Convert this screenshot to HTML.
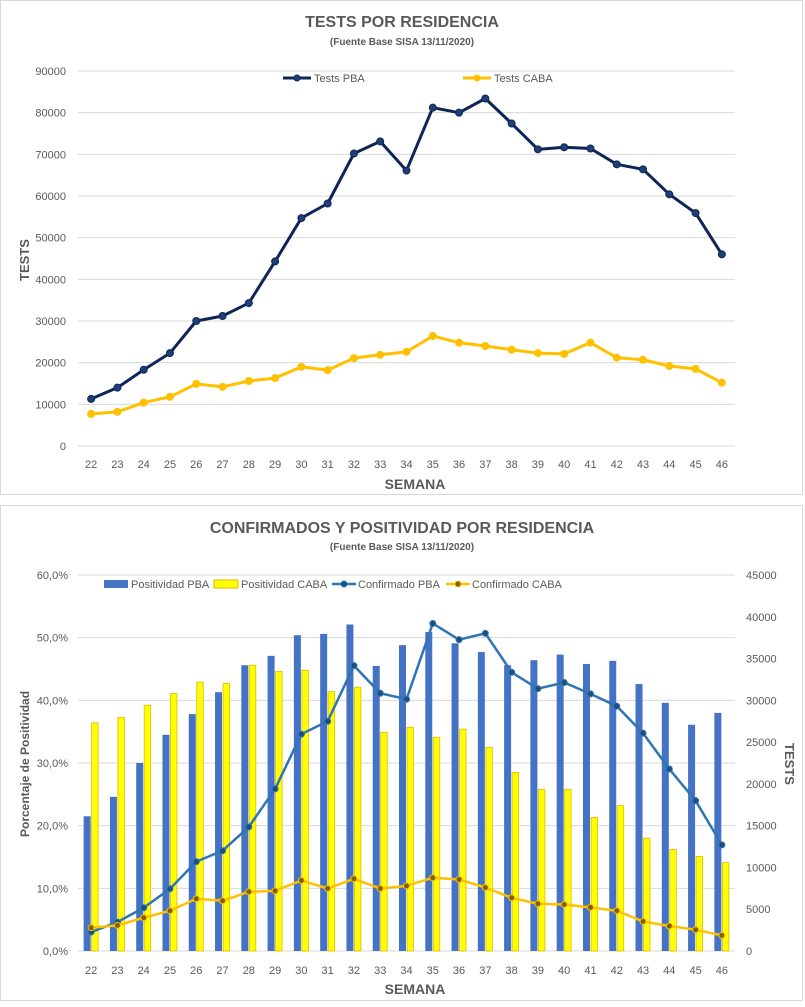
<!DOCTYPE html>
<html><head><meta charset="utf-8"><style>
body{margin:0;background:#fff;width:805px;height:1002px;overflow:hidden;font-family:"Liberation Sans",sans-serif}
svg text{font-family:"Liberation Sans",sans-serif}
</style></head><body>
<svg id="c" width="805" height="1002">
<rect x="0.5" y="0.5" width="802" height="494" fill="#fff" stroke="#d9d9d9"/>
<rect x="0.5" y="505.5" width="802" height="495" fill="#fff" stroke="#d9d9d9"/>
<g id="g1"></g><g id="g2"></g>
</svg>
<script>
const weeks=[22,23,24,25,26,27,28,29,30,31,32,33,34,35,36,37,38,39,40,41,42,43,44,45,46];
const testsPBA=[11300,14000,18300,22300,30000,31200,34300,44300,54700,58200,70200,73100,66100,81200,80000,83400,77400,71200,71700,71400,67600,66400,60400,55900,46000];
const testsCABA=[7700,8200,10400,11800,14900,14200,15600,16300,19000,18200,21100,21900,22600,26400,24800,24000,23100,22300,22100,24800,21200,20700,19200,18500,15200];
const yTicks1=[0,10000,20000,30000,40000,50000,60000,70000,80000,90000];
const posPBA=[21.5,24.6,30.0,34.5,37.8,41.3,45.6,47.1,50.4,50.6,52.1,45.5,48.8,50.9,49.1,47.7,45.6,46.4,47.3,45.8,46.3,42.6,39.6,36.1,38.0];
const posCABA=[36.4,37.3,39.2,41.1,42.9,42.7,45.6,44.6,44.8,41.4,42.1,34.9,35.7,34.1,35.4,32.5,28.5,25.8,25.8,21.3,23.2,18.0,16.2,15.1,14.1];
const confPBA=[2270,3460,5180,7440,10700,12000,14850,19400,25950,27500,34150,30850,30140,39200,37260,38020,33360,31400,32130,30770,29300,26070,21780,17990,12700];
const confCABA=[2790,3070,3980,4820,6250,6010,7090,7200,8440,7480,8640,7480,7800,8760,8560,7600,6370,5650,5570,5220,4820,3540,2990,2550,1870];
const yTicksL=[0,10,20,30,40,50,60];
const yTicksR=[0,5000,10000,15000,20000,25000,30000,35000,40000,45000];

const NS="http://www.w3.org/2000/svg";
function mk(p,t,a,txt){const e=document.createElementNS(NS,t);for(const k in a)e.setAttribute(k,a[k]);if(txt!==undefined)e.textContent=txt;p.appendChild(e);return e;}
const X0=78,X1=735,step=(X1-X0)/weeks.length;
const xAt=i=>X0+step*(i+0.5);

// chart 1
const g1=document.getElementById('g1');
const y1=v=>446-v/90000*375;
let t;
t=mk(g1,'text',{x:402,y:27,'text-anchor':'middle','font-size':16,'font-weight':'bold',fill:'#595959'},'TESTS POR RESIDENCIA');

t=mk(g1,'text',{x:402,y:45,'text-anchor':'middle','font-size':10,'font-weight':'bold',fill:'#595959'},'(Fuente Base SISA 13/11/2020)');

yTicks1.forEach(v=>{
 const l=mk(g1,'line',{x1:X0,x2:X1,y1:y1(v),y2:y1(v),stroke:'#d9d9d9'});
 
 const tx=mk(g1,'text',{x:66,y:y1(v)+4,'text-anchor':'end','font-size':11,fill:'#595959'},v);
 
});
weeks.forEach((w,i)=>{const tx=mk(g1,'text',{x:xAt(i),y:468,'text-anchor':'middle','font-size':11,fill:'#595959'},w);
 });
t=mk(g1,'text',{x:415,y:489,'text-anchor':'middle','font-size':14,'font-weight':'bold',fill:'#595959'},'SEMANA');

t=mk(g1,'text',{x:0,y:0,transform:'translate(29,260) rotate(-90)','text-anchor':'middle','font-size':13,'font-weight':'bold',fill:'#595959'},'TESTS');

function series(g,arr,yf,col,w,r,mcol,name){
 const p=mk(g,'polyline',{points:arr.map((v,i)=>xAt(i)+','+yf(v)).join(' '),fill:'none',stroke:col,'stroke-width':w,'stroke-linejoin':'round'});
 
 arr.forEach((v,i)=>{const c=mk(g,'circle',{cx:xAt(i),cy:yf(v),r:r,fill:mcol,stroke:col,'stroke-width':1});
  });
}
series(g1,testsPBA,y1,'#0f2557',3,3.5,'#1f3f78','tests-pba');
series(g1,testsCABA,y1,'#ffc000',3,3.5,'#ffc000','tests-caba');
// legend 1
function legLine(g,x,y,col,mcol,label,name){
 const l=mk(g,'line',{x1:x,x2:x+28,y1:y,y2:y,stroke:col,'stroke-width':3});
 const c=mk(g,'circle',{cx:x+14,cy:y,r:3,fill:mcol,stroke:col});
 const tx=mk(g,'text',{x:x+31,y:y+4,'font-size':11,fill:'#595959'},label);
}
legLine(g1,283,78,'#0f2557','#1f3f78','Tests PBA','tests-pba');
legLine(g1,463,78,'#ffc000','#ffc000','Tests CABA','tests-caba');

// chart 2
const g2=document.getElementById('g2');
const yL=v=>951-v/60*376;
const yR=v=>951-v/45000*376;
t=mk(g2,'text',{x:402,y:533,'text-anchor':'middle','font-size':16,'font-weight':'bold',fill:'#595959'},'CONFIRMADOS Y POSITIVIDAD POR RESIDENCIA');

t=mk(g2,'text',{x:402,y:550,'text-anchor':'middle','font-size':10,'font-weight':'bold',fill:'#595959'},'(Fuente Base SISA   13/11/2020)');

yTicksL.forEach(v=>{
 const l=mk(g2,'line',{x1:X0,x2:X1,y1:yL(v),y2:yL(v),stroke:'#d9d9d9'});
 
 const tx=mk(g2,'text',{x:68,y:yL(v)+4,'text-anchor':'end','font-size':11,fill:'#595959'},v.toFixed(1).replace('.',',')+'%');
 
});
yTicksR.forEach(v=>{const tx=mk(g2,'text',{x:746,y:yR(v)+4,'font-size':11,fill:'#595959'},v);
 });
posPBA.forEach((v,i)=>{const r=mk(g2,'rect',{x:xAt(i)-7.5,y:yL(v),width:7,height:yL(0)-yL(v),fill:'#4472c4'});
 });
posCABA.forEach((v,i)=>{const r=mk(g2,'rect',{x:xAt(i)+0.5,y:yL(v),width:6.5,height:yL(0)-yL(v),fill:'#ffff00',stroke:'#e6b800','stroke-width':0.8});
 });
series(g2,confPBA,yR,'#2e75b6',2.5,3,'#1f4e79','confirmado-pba');
series(g2,confCABA,yR,'#ffc000',2.5,3,'#7f6000','confirmado-caba');
weeks.forEach((w,i)=>{const tx=mk(g2,'text',{x:xAt(i),y:974,'text-anchor':'middle','font-size':11,fill:'#595959'},w);
 });
t=mk(g2,'text',{x:415,y:994,'text-anchor':'middle','font-size':14,'font-weight':'bold',fill:'#595959'},'SEMANA');

t=mk(g2,'text',{x:0,y:0,transform:'translate(29,764) rotate(-90)','text-anchor':'middle','font-size':12,'font-weight':'bold',fill:'#595959'},'Porcentaje de Positividad');

t=mk(g2,'text',{x:0,y:0,transform:'translate(785,764) rotate(90)','text-anchor':'middle','font-size':13,'font-weight':'bold',fill:'#595959'},'TESTS');

// legend 2
function legBox(x,col,st,label,name){
 const r=mk(g2,'rect',{x:x,y:580,width:24,height:8,fill:col,stroke:st});
 const tx=mk(g2,'text',{x:x+27,y:588,'font-size':11,fill:'#595959'},label);
}
legBox(104,'#4472c4','none','Positividad PBA','positividad-pba');
legBox(214,'#ffff00','#e6b800','Positividad CABA','positividad-caba');
function legLine2(x,col,mcol,label,name){
 const l=mk(g2,'line',{x1:x,x2:x+24,y1:584,y2:584,stroke:col,'stroke-width':2.5});
 const c=mk(g2,'circle',{cx:x+12,cy:584,r:3,fill:mcol,stroke:col});
 const tx=mk(g2,'text',{x:x+26,y:588,'font-size':11,fill:'#595959'},label);
}
legLine2(332,'#2e75b6','#1f4e79','Confirmado PBA','confirmado-pba');
legLine2(446,'#ffc000','#7f6000','Confirmado CABA','confirmado-caba');
</script>
</body></html>
